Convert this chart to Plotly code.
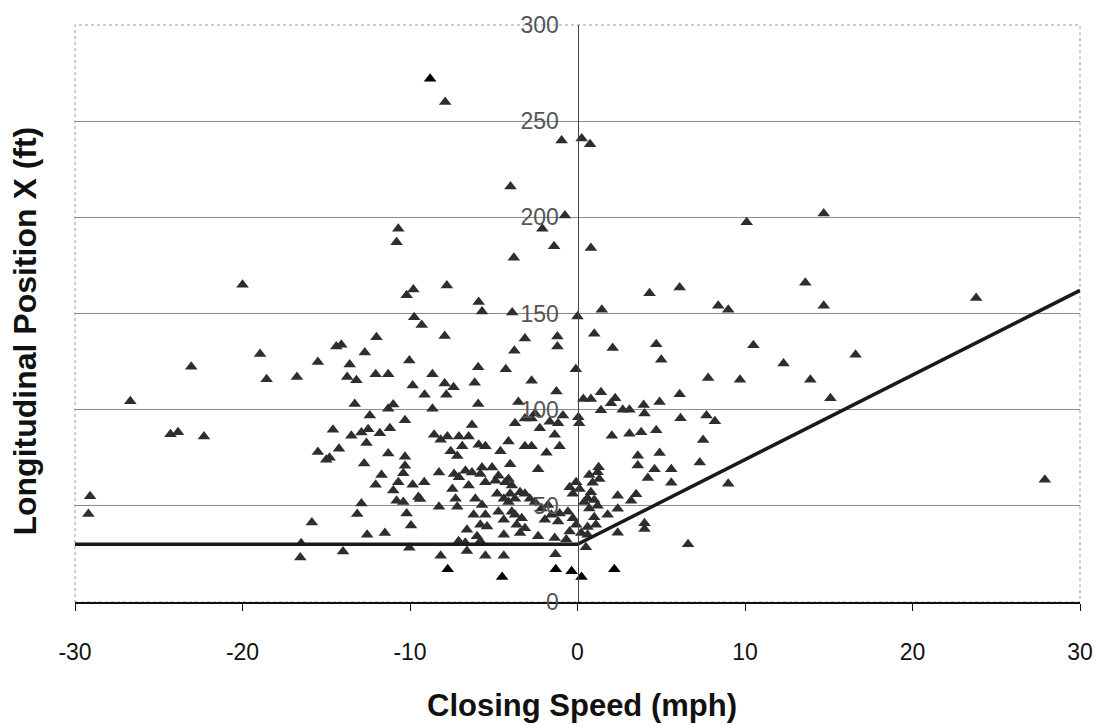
import plotly.graph_objects as go

# Closing speed (mph) and longitudinal position (ft) of observed events
speed_mph = [
    # upper region
    -7.9, -0.95, 0.25, 0.75, -4.0, -0.75, -10.7, -10.8, -2.1, -1.4, 0.8, -3.8,
    -20.0, -7.8, -9.8, -10.2, -5.9, -5.7, -9.75, -9.3, -3.9, 0.0, 10.1, 14.7,
    4.3, 6.1, 13.6, 1.45, 8.4, 9.0, 14.7, 23.8,
    # positive closing speeds
    1.0, 2.1, 4.7, 5.0, 10.5, 12.3, 16.6, 7.8, 9.7, 13.9, 15.1, 1.4, 2.25, 2.0,
    1.4, 2.7, 3.1, 3.95, 4.0, 4.9, 6.1, 6.15, 7.7, 8.2, 2.05, 3.1, 3.8, 4.7, 7.5,
    1.26, 3.6, 3.6, 4.9, 4.6, 4.2, 5.6, 5.6, 7.3, 9.0, 27.9, 2.4, 3.5, 3.2, 1.2,
    1.8, 2.4, 1.0, 4.0, 4.0, 2.4, 6.6,
    # around zero
    -0.1, 0.35, 0.8, 0.05, 0.1, -0.87, 0.7, 0.9, 1.2, 1.3, 0.8, 0.6, 1.0, 0.4,
    0.7, 1.1, 0.6, 0.6, 0.5, -0.08, 0.12, -0.28, -0.47, -0.57, -0.28, -0.08,
    -0.47, 0.22,
    # -4 to -1 mph
    -3.14, -1.2, -1.2, -3.77, -2.74, -3.53, -1.26, -2.54, -3.73, -3.14, -2.74,
    -2.25, -1.66, -1.16, -1.36, -4.12, -3.14, -2.74, -1.85, -1.07, -4.02, -2.35,
    -4.12, -3.92, -4.02, -3.73, -3.43, -3.14, -2.84, -2.54, -2.15, -1.76, -1.56,
    -1.95, -1.16, -1.07, -3.73, -3.33, -3.63, -3.14, -3.43, -2.35, -1.36, -0.67,
    -1.32,
    # -9.5 to -4 mph
    -5.93, -4.28, -6.14, -5.93, -8.66, -6.3, -8.56, -8.17, -7.77, -7.08, -6.5,
    -7.57, -7.18, -6.88, -5.9, -5.5, -4.6, -8.27, -9.15, -9.5, -9.4, -7.37, -7.08,
    -6.69, -6.3, -6.5, -5.7, -5.1, -5.5, -5.8, -4.72, -4.9, -4.3, -7.47, -7.28,
    -7.18, -8.27, -6.1, -5.7, -6.2, -5.5, -5.8, -5.4, -4.8, -4.4, -4.72, -4.4,
    -4.12, -3.92, -6.6, -6.0, -7.1, -6.7, -5.8, -4.4, -6.6, -5.5, -4.4, -8.17,
    -7.93, -7.93, -7.83, -7.4, -8.66, -9.84, -9.13,
    # -16.6 to -9.5 mph
    -12.0, -14.4, -14.1, -12.7, -13.6, -10.04, -13.75, -13.2, -12.05, -11.3,
    -13.3, -12.4, -11.3, -11.0, -10.3, -14.6, -13.5, -12.9, -12.5, -12.6, -11.8,
    -11.2, -14.24, -14.8, -12.74, -11.3, -10.3, -10.3, -10.4, -11.7, -12.05,
    -10.7, -11.0, -9.84, -10.8, -10.4, -12.9, -13.15, -10.2, -9.94, -12.56,
    -11.5, -10.04, -14.0,
    # far left
    -18.95, -15.5, -23.06, -18.56, -16.75, -26.7, -24.3, -23.85, -22.3, -15.5,
    -15.0, -29.1, -29.2, -15.86, -16.55, -16.5,
]

position_ft = [
    # upper region
    260, 240, 241, 238, 216, 201, 194, 187, 194, 185, 184, 179,
    165, 164.5, 162.5, 159.5, 156, 151, 148, 144, 150.5, 148.5, 197.5, 202,
    160.5, 163.5, 166, 152, 154, 152, 154, 158,
    # positive closing speeds
    139.5, 132, 134, 126, 133.5, 124, 128.5, 116.5, 115.5, 115.5, 106, 109, 106, 103.4,
    99.7, 100, 100, 102.4, 98, 104, 108, 95.5, 97, 94, 86.5, 87.5, 88.3, 89.3, 84.2,
    70, 76, 71, 77.5, 69, 64.5, 69, 62, 72.5, 61.5, 63.5, 55.3, 56, 52.7, 50,
    45.4, 48.5, 44, 41, 38, 36, 30,
    # around zero
    121, 105.5, 105.5, 96, 93, 97, 66, 62, 67.5, 64, 57, 54, 53, 52,
    48.6, 40.2, 39, 35, 28.5, 62.2, 58.8, 56.3, 59.7, 46.9, 43.5, 40.2,
    36.7, 35.9,
    # -4 to -1 mph
    137, 138, 132.8, 130.6, 115, 104, 109.5, 98, 92.9, 95.4, 95.4,
    90.3, 93.7, 92.9, 86.9, 83.5, 81, 81, 77.6, 81, 71.6, 69,
    63.9, 60.6, 56.3, 53.7, 57.1, 56.3, 53.7, 52, 48.6, 50.4, 45.3,
    42.7, 41.8, 46, 45.3, 43.5, 40.2, 38.4, 35.9, 34.2, 33.3, 32.5,
    24.8,
    # -9.5 to -4 mph
    122, 121, 114, 103, 100.5, 92, 86.9, 84.3, 86, 86, 86,
    78.4, 75.9, 81, 81.8, 81, 78.4, 67.3, 62.2, 54.6, 53.6, 66.5, 64.8,
    68.2, 67.3, 60.6, 69.9, 69.9, 62.2, 66.5, 65.7, 63.1, 62.2, 58.8, 53.7,
    49.5, 49.5, 53.7, 50.4, 45.3, 45.3, 40.2, 39.3, 56.3, 53.7, 46.9, 42.7,
    52, 46.9, 37.6, 34.2, 31.6, 30.8, 31.6, 35, 26.5, 24, 24, 24,
    138.3, 113.6, 107.7, 111.7, 118.4, 112.6, 107.7,
    # -16.6 to -9.5 mph
    137.6, 132.8, 133.7, 129.7, 123.5, 125.5, 117, 115.3, 118.4, 118.4,
    103, 97, 100.5, 102.7, 94.5, 89.5, 86.4, 88.1, 89.8, 82.7, 87.8,
    90.3, 79.7, 75, 72, 77.2, 75.5, 70.8, 67, 66, 60.9,
    62.2, 58, 60.9, 52.6, 52, 51.2, 45.8, 46, 39.8, 35,
    35.9, 28.2, 26.2,
    # far left
    129, 124.8, 122.3, 115.8, 117, 104.4, 87.2, 88.3, 86, 78,
    74, 55, 45.8, 41.3, 23.1, 30.5,
]

# Events plotted in solid black
flag_speed_mph = [-8.8, -7.75, -4.5, -1.3, -0.35, 0.24, 2.2]
flag_position_ft = [272, 17, 13, 17, 16, 13, 17]

# Boundary line: constant for opening speeds, rising with closing speed
boundary_speed_mph = [-30, 0, 30]
boundary_position_ft = [30, 30, 162]

x_ticks = [-30, -20, -10, 0, 10, 20, 30]
y_ticks = [0, 50, 100, 150, 200, 250, 300]

FONT = "Liberation Sans, Arial, sans-serif"

fig = go.Figure()

fig.add_trace(go.Scatter(
    x=speed_mph, y=position_ft, mode="markers",
    marker=dict(symbol="triangle-up", size=11, color="#2e2e2e",
                line=dict(width=0)),
    showlegend=False, hoverinfo="x+y",
))

fig.add_trace(go.Scatter(
    x=boundary_speed_mph, y=boundary_position_ft, mode="lines",
    line=dict(color="#1a1a1a", width=3.5),
    showlegend=False, hoverinfo="skip",
))

fig.add_trace(go.Scatter(
    x=flag_speed_mph, y=flag_position_ft, mode="markers",
    marker=dict(symbol="triangle-up", size=11, color="#000000",
                line=dict(width=0)),
    showlegend=False, hoverinfo="x+y",
))

fig.update_layout(
    width=1105, height=725,
    margin=dict(l=75, r=17, t=14, b=123),
    paper_bgcolor="white", plot_bgcolor="white",
    font=dict(family=FONT, color="#111"),
    xaxis=dict(
        range=[-30, 30], tickvals=x_ticks, ticktext=[str(v) for v in x_ticks],
        showgrid=False, zeroline=False,
        showline=True, linecolor="#111", linewidth=1.5,
        ticks="outside", ticklen=7, tickcolor="#111", tickwidth=1,
        ticklabelstandoff=22,
        tickfont=dict(family=FONT, size=23, color="#111"),
    ),
    yaxis=dict(
        range=[0, 300], tickvals=y_ticks, ticktext=[str(v) for v in y_ticks],
        anchor="free", position=0.5,
        showgrid=True, gridcolor="#8c8c8c", gridwidth=1,
        zeroline=False,
        showline=True, linecolor="#444", linewidth=1,
        ticks="", ticklabelstandoff=14,
        tickfont=dict(family=FONT, size=23, color="#555"),
    ),
    shapes=[
        dict(type="rect", xref="paper", yref="paper", x0=0, x1=1, y0=0, y1=1,
             line=dict(color="#9a9a9a", width=1, dash="dot"), layer="below"),
    ],
    annotations=[
        dict(text="<b>Closing Speed (mph)</b>", xref="paper", yref="paper",
             x=0.504, y=-0.18, xanchor="center", yanchor="middle",
             showarrow=False, font=dict(family=FONT, size=31, color="#111")),
        dict(text="<b>Longitudinal Position X (ft)</b>", xref="paper", yref="paper",
             x=-0.05, y=0.47, xanchor="center", yanchor="middle", textangle=-90,
             showarrow=False, font=dict(family=FONT, size=32, color="#111")),
    ],
)

fig.write_html("out.html")
